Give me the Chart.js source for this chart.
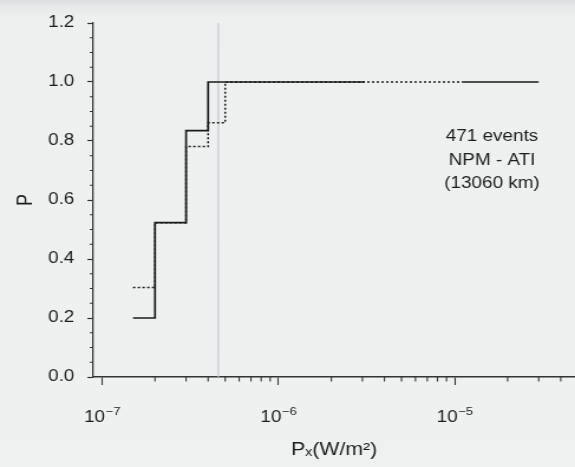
<!DOCTYPE html>
<html>
<head>
<meta charset="utf-8">
<script src="https://cdn.jsdelivr.net/npm/chart.js@4.4.1/dist/chart.umd.min.js"></script>
<style>
  html, body { margin: 0; padding: 0; }
  body {
    width: 575px; height: 467px; overflow: hidden;
    background: linear-gradient(#dcdfe0 0px, #e8eaea 8px, #eef0f0 18px, #eff1f1 100%);
  }
  #chart { display: block; }
</style>
</head>
<body>
<!-- the original figure is stretched sideways, so the canvas is drawn narrow and widened by css -->
<canvas id="chart" width="487" height="467" style="width:575px;height:467px"></canvas>
<script>
// cumulative probability P against Px (W/m2)
var solidX = [1.5e-7, 2e-7, 3e-7, 4e-7, 3.1e-6, 5e-6, 1.13e-5, 3e-5];
var solidP = [0.20, 0.523, 0.835, 1.0, 1.0, null, 1.0, 1.0];

var dottedX = [1.5e-7, 2e-7, 3e-7, 4e-7, 5e-7, 1.13e-5];
var dottedP = [0.303, 0.523, 0.781, 0.862, 1.0, 1.0];

// thin grey marker line
var markX = [4.57e-7, 4.57e-7];
var markP = [0, 1.2];

var xMajorTicks = [1e-7, 1e-6, 1e-5];
var xTickExp = ['\u22127', '\u22126', '\u22125'];   // drawn as 10 with a raised exponent
var xMinorTicks = [2e-7, 3e-7, 4e-7, 5e-7, 6e-7, 7e-7, 8e-7, 9e-7,
                   2e-6, 3e-6, 4e-6, 5e-6, 6e-6, 7e-6, 8e-6, 9e-6,
                   2e-5, 3e-5, 4e-5];
var yMajorTicks = [0, 0.2, 0.4, 0.6, 0.8, 1.0, 1.2];
var yMinorTicks = [0.05, 0.1, 0.15, 0.25, 0.3, 0.35, 0.45, 0.5, 0.55,
                   0.65, 0.7, 0.75, 0.85, 0.9, 0.95, 1.05, 1.1, 1.15];

var noteLines = ['471 events', 'NPM - ATI', '(13060 km)'];
var noteP = [0.80, 0.72, 0.64];
var noteX = 1.63e-5;

var axisColor = '#333';
var textColor = '#1c1c1c';
var fontName = '"Liberation Sans", Arial, Helvetica, sans-serif';

function pts(xs, ys) {
    return xs.map(function (x, i) { return {x: x, y: ys[i]}; });
}

// minor ticks, power-of-ten labels and the text block
var extras = {
    id: 'extras',
    afterDraw: function (chart) {
        var ctx = chart.ctx;
        var xs = chart.scales.x;
        var ys = chart.scales.y;
        ctx.save();
        ctx.strokeStyle = axisColor;
        ctx.lineWidth = 1.1;
        ctx.beginPath();
        xMinorTicks.forEach(function (v) {
            var px = xs.getPixelForValue(v);
            ctx.moveTo(px, xs.top);
            ctx.lineTo(px, xs.top + 4.5);
        });
        yMinorTicks.forEach(function (v) {
            var py = ys.getPixelForValue(v);
            ctx.moveTo(ys.right, py);
            ctx.lineTo(ys.right - 3, py);
        });
        ctx.stroke();

        ctx.fillStyle = textColor;
        ctx.textBaseline = 'alphabetic';
        ctx.textAlign = 'left';
        xMajorTicks.forEach(function (v, i) {
            var px = xs.getPixelForValue(v);
            ctx.font = '16px ' + fontName;
            var w1 = ctx.measureText('10').width;
            ctx.font = '11px ' + fontName;
            var w2 = ctx.measureText(xTickExp[i]).width;
            var x0 = px - (w1 + w2) / 2;
            ctx.font = '16px ' + fontName;
            ctx.fillText('10', x0, xs.top + 45);
            ctx.font = '11px ' + fontName;
            ctx.fillText(xTickExp[i], x0 + w1 + 0.5, xs.top + 37.5);
        });

        ctx.font = '16px ' + fontName;
        ctx.textAlign = 'center';
        noteLines.forEach(function (t, i) {
            ctx.fillText(t, xs.getPixelForValue(noteX), ys.getPixelForValue(noteP[i]));
        });
        ctx.restore();
    }
};

new Chart(document.getElementById('chart'), {
    type: 'line',
    data: {
        datasets: [{
            data: pts(solidX, solidP),
            borderColor: '#1a1a1a',
            borderWidth: 1.7,
            stepped: 'before',
            pointRadius: 0,
            spanGaps: false,
            order: 0
        }, {
            data: pts(dottedX, dottedP),
            borderColor: '#1a1a1a',
            borderWidth: 1.5,
            borderDash: [2, 2],
            stepped: 'before',
            pointRadius: 0,
            order: 1
        }, {
            data: pts(markX, markP),
            borderColor: '#c4c8cc',
            borderWidth: 1.2,
            pointRadius: 0,
            order: 2
        }]
    },
    options: {
        responsive: false,
        animation: false,
        events: [],
        layout: {padding: {top: 23, right: 0, bottom: 0, left: 0}},
        plugins: {
            legend: {display: false},
            tooltip: {enabled: false}
        },
        scales: {
            x: {
                type: 'logarithmic',
                min: 8.93e-8,
                max: 4.82e-5,
                bounds: 'data',
                afterBuildTicks: function (scale) {
                    scale.ticks = xMajorTicks.map(function (v) { return {value: v, major: true}; });
                },
                afterFit: function (scale) {
                    scale.height = 90;
                    scale.paddingLeft = 0;
                    scale.paddingRight = 0;
                },
                border: {display: true, color: axisColor, width: 1.5},
                grid: {drawOnChartArea: false, drawTicks: true, tickLength: 8, tickColor: axisColor, tickWidth: 1.1},
                ticks: {display: false, autoSkip: false, maxRotation: 0},
                title: {
                    display: true,
                    text: 'P\u2093(W/m\u00B2)',
                    color: textColor,
                    font: {family: fontName, size: 18},
                    padding: {top: 0, bottom: 6}
                }
            },
            y: {
                type: 'linear',
                min: 0,
                max: 1.2,
                bounds: 'data',
                afterBuildTicks: function (scale) {
                    scale.ticks = yMajorTicks.map(function (v) { return {value: v}; });
                },
                afterFit: function (scale) {
                    scale.width = 79;
                    scale.paddingTop = 0;
                    scale.paddingBottom = 0;
                },
                border: {display: true, color: axisColor, width: 1.3},
                grid: {drawOnChartArea: false, drawTicks: true, tickLength: 5, tickColor: axisColor, tickWidth: 1.2},
                ticks: {
                    padding: 11,
                    color: textColor,
                    font: {family: fontName, size: 16},
                    callback: function (value) { return value.toFixed(1); }
                },
                title: {
                    display: true,
                    text: 'P',
                    color: textColor,
                    font: {family: fontName, size: 18},
                    padding: {top: 11, bottom: 0}
                }
            }
        }
    },
    plugins: [extras]
});
</script>
</body>
</html>
